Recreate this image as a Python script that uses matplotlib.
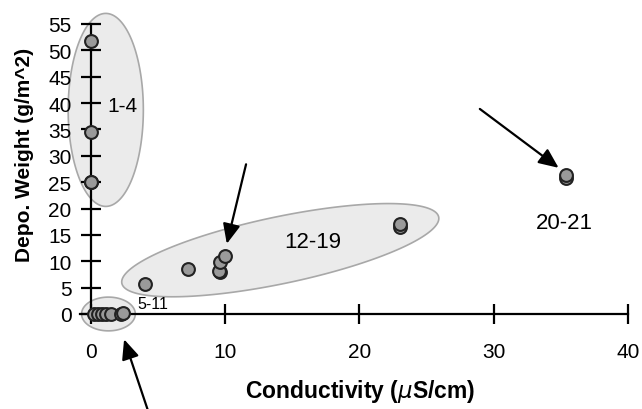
import numpy as np
import matplotlib
matplotlib.use('Agg')
import matplotlib.pyplot as plt

plt.rcParams['font.family'] = ['Liberation Sans', 'DejaVu Sans']

# Samples 1-21: conductivity (uS/cm) and deposit weight (g/m^2)
cond_1_4 = [0.0, 0.0, 0.0, 0.0]
depo_1_4 = [51.7, 34.5, 25.0, 25.0]
cond_5_11 = [0.2, 0.5, 0.8, 1.1, 1.5, 2.2, 2.4]
depo_5_11 = [0.0, 0.0, 0.0, 0.0, 0.0, 0.0, 0.2]
cond_12_19 = [4.0, 7.2, 9.6, 9.5, 9.6, 10.0, 23.0, 23.0]
depo_12_19 = [5.7, 8.5, 7.9, 8.1, 9.8, 11.0, 16.5, 17.0]
cond_20_21 = [35.4, 35.4]
depo_20_21 = [25.8, 26.3]

group_labels = ['1-4', '5-11', '12-19', '20-21']
x_ticks = [0, 10, 20, 30, 40]
y_ticks = list(range(0, 60, 5))

fig = plt.figure(figsize=(6.42, 4.10), dpi=100)
ax = fig.add_axes([0.0999, 0.1803, 0.8887, 0.7717])
ax.set_xlim(-2, 40.5)
ax.set_ylim(-4, 56)

# gray ellipses around the groups
fill_c = '#ebebeb'
edge_c = '#a8a8a8'
t = np.linspace(0, 2 * np.pi, 200)


def blob(cx, cy, ax_vec, bx_vec, z=1):
    xs = cx + np.cos(t) * ax_vec[0] + np.sin(t) * bx_vec[0]
    ys = cy + np.cos(t) * ax_vec[1] + np.sin(t) * bx_vec[1]
    ax.fill(xs, ys, facecolor=fill_c, edgecolor=edge_c, lw=1.2, zorder=z,
            clip_on=False)


blob(1.1, 38.7, (2.8, 0), (0, 18.3))
blob(1.3, 0.0, (2.0, 0), (0, 3.2))
blob(14.1, 12.1, (11.8, 6.3), (-0.52, 6.2))

pts = [(cond_1_4, depo_1_4), (cond_5_11, depo_5_11),
       (cond_12_19, depo_12_19), (cond_20_21, depo_20_21)]
for xs, ys in pts:
    ax.scatter(xs, ys, s=85, c='#9a9a9a', edgecolors='#222222',
               linewidths=1.5, zorder=5, clip_on=False)

# group labels
ax.text(2.35, 39.6, group_labels[0], fontsize=15, ha='center', va='center')
ax.text(4.6, 2.0, group_labels[1], fontsize=11.5, ha='center', va='center')
ax.text(16.5, 13.8, group_labels[2], fontsize=16, ha='center', va='center')
ax.text(35.3, 17.4, group_labels[3], fontsize=16, ha='center', va='center')

# arrows
arw = dict(arrowstyle='-|>,head_length=0.5,head_width=0.22', color='black',
           lw=1.6, mutation_scale=24)
ax.annotate('', xy=(10.07, 12.8), xytext=(11.6, 28.9), arrowprops=arw,
            annotation_clip=False)
ax.annotate('', xy=(35.0, 27.4), xytext=(28.8, 39.2), arrowprops=arw,
            annotation_clip=False)
ax.annotate('', xy=(2.4, -4.3), xytext=(4.4, -19.5), arrowprops=arw,
            annotation_clip=False)

# axes crossing at the origin
for s in ['top', 'right']:
    ax.spines[s].set_visible(False)
ax.spines['left'].set_position(('data', 0))
ax.spines['bottom'].set_position(('data', 0))
ax.spines['left'].set_bounds(0, 55)
ax.spines['bottom'].set_bounds(-0.8, 40)
for s in ['left', 'bottom']:
    ax.spines[s].set_linewidth(1.6)
    ax.spines[s].set_zorder(3)
ax.set_xticks(x_ticks)
ax.set_yticks(y_ticks)
ax.tick_params(direction='inout', length=14, width=1.6, labelsize=15)
ax.tick_params(axis='x', pad=13)
ax.tick_params(axis='y', pad=7)

fig.text(0.038, 0.622, 'Depo. Weight (g/m^2)', rotation=90, fontsize=15,
         fontweight='bold', ha='center', va='center')
fig.text(0.561, 0.044, r'Conductivity ($\mu$S/cm)', fontsize=16.5,
         fontweight='bold', ha='center', va='center')

fig.savefig('out.png', dpi=100)
